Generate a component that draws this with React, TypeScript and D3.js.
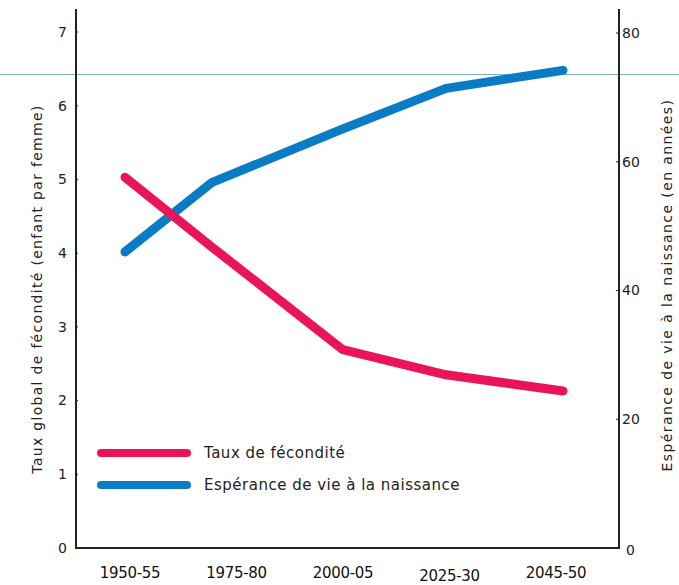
// Fécondité / espérance de vie, 1950-2050
import React, { useEffect, useRef } from 'react';
import * as d3 from 'd3';

const periods = ['1950-55', '1975-80', '2000-05', '2025-30', '2045-50'];
// where each period's point sits on the drawing, read as years
const pointYears = [1952.5, 1971.5, 2000, 2022.5, 2048];
const fertility = [5.03, 4.08, 2.69, 2.35, 2.13];
const lifeExpectancy = [46.0, 56.8, 65.1, 71.4, 74.2];
const leftTicks = [0, 1, 2, 3, 4, 5, 6, 7];
const rightTicks = [0, 20, 40, 60, 80];

const RED = '#ea1558';
const BLUE = '#0a7cc6';
const INK = '#222';
const FONT = '"DejaVu Sans", sans-serif';

const App: React.FC = () => {
  const svgRef = useRef<SVGSVGElement>(null);

  useEffect(() => {
    if (!svgRef.current) return;
    const svg = d3.select(svgRef.current);
    svg.selectAll('*').remove();

    const left = 76, right = 619, bottom = 548, top = 9;

    const x = d3.scaleLinear().domain([1952.5, 2048]).range([125, 563]);
    const xLabels = d3.scalePoint<string>().domain(periods).range([130, 556]);
    const yL = d3.scaleLinear().domain([0, 7]).range([bottom, 32]);
    const yR = d3.scaleLinear().domain([0, 80]).range([bottom, 33]);

    // stray guide line across the picture
    svg.append('line')
      .attr('x1', 0).attr('x2', 679).attr('y1', 74.5).attr('y2', 74.5)
      .attr('stroke', '#7fb3c4').attr('stroke-width', 1);

    // axes frame
    svg.append('path')
      .attr('d', `M${left},${top}V${bottom}H${right}V${top}`)
      .attr('fill', 'none')
      .attr('stroke', INK)
      .attr('stroke-width', 2);

    // left ticks
    const lt = svg.append('g');
    leftTicks.forEach(t => {
      lt.append('text')
        .attr('x', 67).attr('y', yL(t))
        .attr('dy', '0.35em')
        .attr('text-anchor', 'end')
        .attr('font-family', FONT).attr('font-size', 14)
        .attr('fill', INK)
        .text(t);
      if (t > 0) {
        lt.append('line')
          .attr('x1', left).attr('x2', left + 2)
          .attr('y1', yL(t)).attr('y2', yL(t))
          .attr('stroke', INK).attr('stroke-width', 1);
      }
    });

    // right ticks
    const rt = svg.append('g');
    rightTicks.forEach(t => {
      rt.append('text')
        .attr('x', t === 0 ? 626 : 622).attr('y', yR(t) + (t === 0 ? 2 : 0))
        .attr('dy', '0.35em')
        .attr('font-family', FONT).attr('font-size', 14)
        .attr('fill', INK)
        .text(t);
      if (t > 0) {
        rt.append('line')
          .attr('x1', right - 3).attr('x2', right)
          .attr('y1', yR(t)).attr('y2', yR(t))
          .attr('stroke', INK).attr('stroke-width', 1);
      }
    });

    // x labels
    periods.forEach(p => {
      svg.append('text')
        .attr('x', xLabels(p)!)
        .attr('y', p === '2025-30' ? 581 : 578)
        .attr('text-anchor', 'middle')
        .attr('font-family', FONT).attr('font-size', 15)
        .attr('letter-spacing', -0.3)
        .attr('fill', '#111')
        .text(p);
    });

    // axis titles
    svg.append('text')
      .attr('transform', 'translate(37,289) rotate(-90)')
      .attr('text-anchor', 'middle')
      .attr('dy', '0.35em')
      .attr('font-family', FONT).attr('font-size', 14)
      .attr('letter-spacing', 1.3)
      .attr('fill', INK)
      .text('Taux global de fécondité (enfant par femme)');

    svg.append('text')
      .attr('transform', 'translate(667,285) rotate(-90)')
      .attr('text-anchor', 'middle')
      .attr('dy', '0.35em')
      .attr('font-family', FONT).attr('font-size', 14)
      .attr('letter-spacing', 1.4)
      .attr('fill', INK)
      .text('Espérance de vie à la naissance (en années)');

    // series
    const lineL = d3.line<number>()
      .x((_, i) => x(pointYears[i]))
      .y(d => yL(d));
    const lineR = d3.line<number>()
      .x((_, i) => x(pointYears[i]))
      .y(d => yR(d));

    svg.append('path')
      .attr('d', lineR(lifeExpectancy)!)
      .attr('fill', 'none')
      .attr('stroke', BLUE)
      .attr('stroke-width', 9)
      .attr('stroke-linecap', 'round')
      .attr('stroke-linejoin', 'round');

    svg.append('path')
      .attr('d', lineL(fertility)!)
      .attr('fill', 'none')
      .attr('stroke', RED)
      .attr('stroke-width', 9)
      .attr('stroke-linecap', 'round')
      .attr('stroke-linejoin', 'round');

    // legend
    const legend = [
      { label: 'Taux de fécondité', color: RED },
      { label: 'Espérance de vie à la naissance', color: BLUE }
    ];
    legend.forEach((d, i) => {
      const ly = 453 + i * 32;
      svg.append('line')
        .attr('x1', 101).attr('x2', 187)
        .attr('y1', ly).attr('y2', ly)
        .attr('stroke', d.color)
        .attr('stroke-width', 8)
        .attr('stroke-linecap', 'round');
      svg.append('text')
        .attr('x', 204).attr('y', ly)
        .attr('dy', '0.35em')
        .attr('font-family', FONT).attr('font-size', 15)
        .attr('letter-spacing', 0.5)
        .attr('fill', INK)
        .text(d.label);
    });
  }, []);

  return (
    <svg
      ref={svgRef}
      width={679}
      height={585}
      style={{ position: 'absolute', left: 0, top: 0, display: 'block', background: '#fff' }}
    />
  );
};

export default App;
